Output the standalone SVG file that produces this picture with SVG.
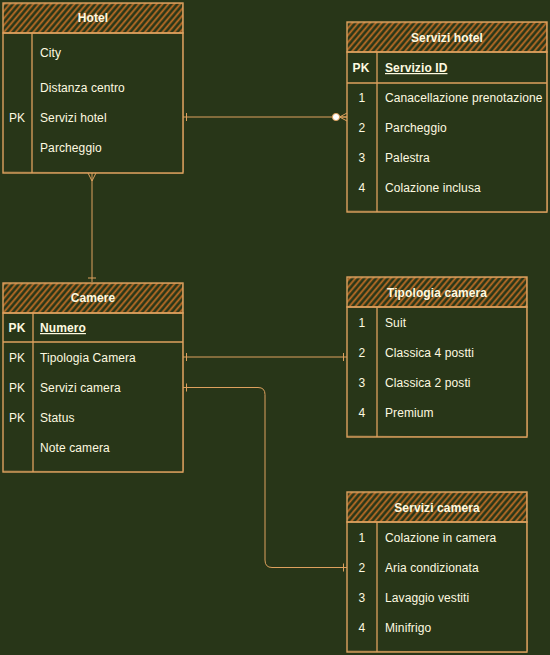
<svg xmlns="http://www.w3.org/2000/svg" width="550" height="655" viewBox="0 0 550 655">
<defs>
<pattern id="hatch" patternUnits="userSpaceOnUse" width="4.5" height="10" patternTransform="rotate(40)">
<line x1="1.2" y1="-2" x2="1.2" y2="12" stroke="#bc6c25" stroke-width="1.8"/>
</pattern>
<style>
.box{fill:none;stroke:#dda15e;stroke-width:1.4}
.box2{fill:none;stroke:#dda15e;stroke-width:0.8;opacity:0.6}
.hdr{fill:url(#hatch);stroke:#dda15e;stroke-width:1.4}
.ln{stroke:#dda15e;stroke-width:1.3;fill:none}
.t{font-family:"Liberation Sans",Arial,sans-serif;font-size:12px;fill:#fefae0;letter-spacing:0.1px}
.b{font-weight:bold}
.c{text-anchor:middle}
.u{text-decoration:underline}
.con{stroke:#dda15e;stroke-width:1;fill:none}
</style>
</defs>
<rect width="550" height="655" fill="#283618"/>

<g id="connectors">
<!-- Hotel -> Servizi hotel -->
<path class="con" d="M183 117 H347"/>
<path class="con" d="M186.5 113 V121"/>
<path class="con" d="M339.5 117 L347 113 M339.5 117 L347 121 M339.5 117 H347"/>
<circle cx="336" cy="117" r="3.6" fill="#ffffff" stroke="#dda15e" stroke-width="1"/>
<!-- Hotel -> Camere -->
<path class="con" d="M92 173 V282"/>
<path class="con" d="M88 173 L92 181 L96 173"/>
<path class="con" d="M88 278 H96"/>
<!-- Camere -> Tipologia camera -->
<path class="con" d="M183 357 H347"/>
<path class="con" d="M186.5 353 V361 M343.5 353 V361"/>
<!-- Camere -> Servizi camera -->
<path class="con" d="M183 387.5 H258 Q265 387.5 265 394.5 V560 Q265 567.5 272 567.5 H347"/>
<path class="con" d="M186.5 383.5 V391.5 M343.5 563.5 V571.5"/>
</g>

<g id="hotel">
<rect class="hdr" x="3" y="3" width="180" height="30"/>
<rect class="box" x="3" y="33" width="180" height="140"/>
<path class="box2" d="M4 4 L182 3.5 M3.5 172 L183 173.5 M182.5 4 L183.5 172"/>
<path class="ln" d="M32 33 V173"/>
<text class="t b c" x="93" y="22">Hotel</text>
<text class="t" x="40" y="57">City</text>
<text class="t" x="40" y="92">Distanza centro</text>
<text class="t c" x="17" y="122">PK</text>
<text class="t" x="40" y="122">Servizi hotel</text>
<text class="t" x="40" y="152">Parcheggio</text>
</g>

<g id="servizi-hotel">
<rect class="hdr" x="347" y="22" width="200" height="30"/>
<rect class="box" x="347" y="52" width="200" height="160"/>
<path class="box2" d="M348 23 L546 22.5 M347.5 211 L547 212.5 M546.5 23 L547.5 211"/>
<path class="ln" d="M347 83 H547 M377 52 V212"/>
<text class="t b c" x="447" y="42">Servizi hotel</text>
<text class="t b c" x="361" y="72">PK</text>
<text class="t b u" x="385" y="72">Servizio ID</text>
<text class="t c" x="362" y="102">1</text>
<text class="t" x="385" y="102">Canacellazione prenotazione</text>
<text class="t c" x="362" y="132">2</text>
<text class="t" x="385" y="132">Parcheggio</text>
<text class="t c" x="362" y="162">3</text>
<text class="t" x="385" y="162">Palestra</text>
<text class="t c" x="362" y="192">4</text>
<text class="t" x="385" y="192">Colazione inclusa</text>
</g>

<g id="camere">
<rect class="hdr" x="3" y="283" width="180" height="30"/>
<rect class="box" x="3" y="313" width="180" height="159"/>
<path class="box2" d="M4 284 L182 283.5 M3.5 471 L183 472.5 M182.5 284 L183.5 471"/>
<path class="ln" d="M3 342 H183 M33 313 V472"/>
<text class="t b c" x="93" y="302">Camere</text>
<text class="t b c" x="17" y="332">PK</text>
<text class="t b u" x="40" y="332">Numero</text>
<text class="t c" x="17" y="362">PK</text>
<text class="t" x="40" y="362">Tipologia Camera</text>
<text class="t c" x="17" y="392">PK</text>
<text class="t" x="40" y="392">Servizi camera</text>
<text class="t c" x="17" y="422">PK</text>
<text class="t" x="40" y="422">Status</text>
<text class="t" x="40" y="452">Note camera</text>
</g>

<g id="tipologia-camera">
<rect class="hdr" x="347" y="277" width="180" height="30"/>
<rect class="box" x="347" y="307" width="180" height="130"/>
<path class="box2" d="M348 278 L526 277.5 M347.5 436 L527 437.5 M526.5 278 L527.5 436"/>
<path class="ln" d="M377 307 V437"/>
<text class="t b c" x="437" y="297">Tipologia camera</text>
<text class="t c" x="362" y="327">1</text>
<text class="t" x="385" y="327">Suit</text>
<text class="t c" x="362" y="357">2</text>
<text class="t" x="385" y="357">Classica 4 postti</text>
<text class="t c" x="362" y="387">3</text>
<text class="t" x="385" y="387">Classica 2 posti</text>
<text class="t c" x="362" y="417">4</text>
<text class="t" x="385" y="417">Premium</text>
</g>

<g id="servizi-camera">
<rect class="hdr" x="347" y="492" width="180" height="30"/>
<rect class="box" x="347" y="522" width="180" height="130"/>
<path class="box2" d="M348 493 L526 492.5 M347.5 651 L527 652.5 M526.5 493 L527.5 651"/>
<path class="ln" d="M377 522 V652"/>
<text class="t b c" x="437" y="512">Servizi camera</text>
<text class="t c" x="362" y="542">1</text>
<text class="t" x="385" y="542">Colazione in camera</text>
<text class="t c" x="362" y="572">2</text>
<text class="t" x="385" y="572">Aria condizionata</text>
<text class="t c" x="362" y="602">3</text>
<text class="t" x="385" y="602">Lavaggio vestiti</text>
<text class="t c" x="362" y="632">4</text>
<text class="t" x="385" y="632">Minifrigo</text>
</g>
</svg>
